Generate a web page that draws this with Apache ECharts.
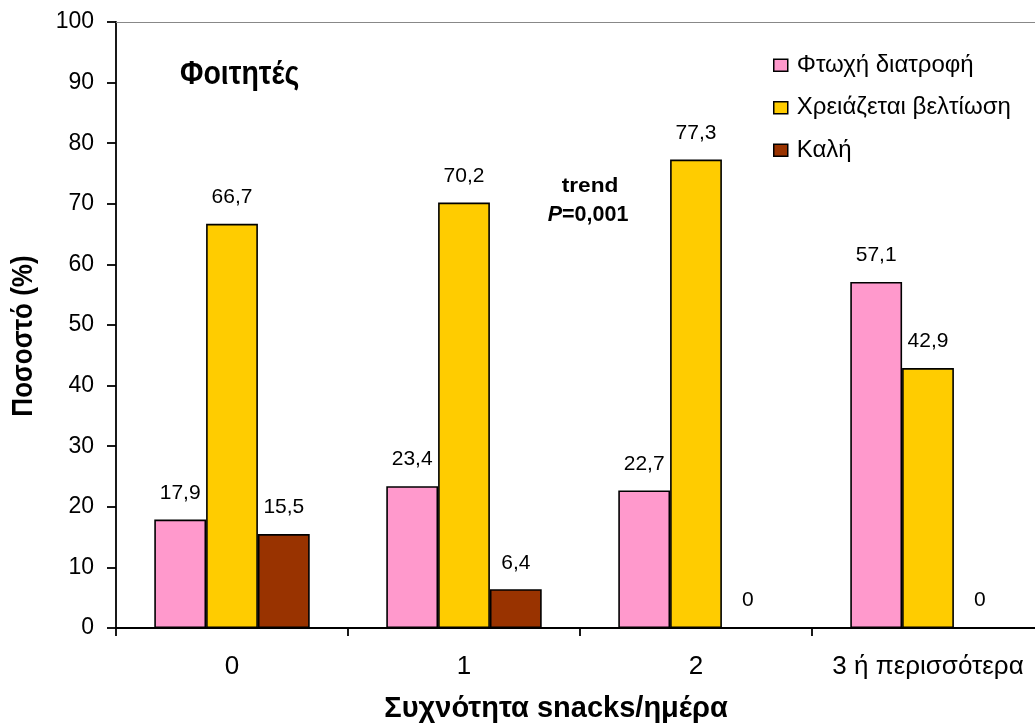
<!DOCTYPE html>
<html>
<head>
<meta charset="utf-8">
<style>
  html, body { margin: 0; padding: 0; background: #fff; overflow: hidden; }
  /* the plot area runs a little past the right edge of the window */
  #chart { width: 1052px; height: 725px; }
</style>
<script src="https://cdn.jsdelivr.net/npm/echarts@6/dist/echarts.min.js"></script>
</head>
<body>
<div id="chart"></div>
<script>
// Snack frequency per day (categories) and diet quality shares (%)
const categories = ['0', '1', '2', '3 ή περισσότερα'];
const seriesNames = ['Φτωχή διατροφή', 'Χρειάζεται βελτίωση', 'Καλή'];
const poorDiet = [17.9, 23.4, 22.7, 57.1];
const needsImprovement = [66.7, 70.2, 77.3, 42.9];
const goodDiet = [15.5, 6.4, 0, 0];
const yTicks = { min: 0, max: 100, interval: 10 };

const colors = ['#FF99CC', '#FFCC00', '#993300'];
const FONT = '"Liberation Sans", Arial, sans-serif';

const chart = echarts.init(document.getElementById('chart'), null, { renderer: 'canvas' });

function barSeries(name, data, color) {
  return {
    name: name,
    type: 'bar',
    data: data,
    barGap: '0%',
    barCategoryGap: '33%',
    itemStyle: { color: color, borderColor: '#000', borderWidth: 1.6 },
    label: {
      show: true,
      position: 'top',
      distance: 16,
      color: '#000',
      fontFamily: FONT,
      fontSize: 21,
      formatter: p => String(p.value).replace('.', ',')
    },
    emphasis: { disabled: true }
  };
}

chart.setOption({
  animation: false,
  backgroundColor: '#fff',
  grid: { left: 116, top: 22, width: 928, bottom: 97 },
  legend: {
    orient: 'vertical',
    left: 768,
    top: 48,
    icon: 'rect',
    itemWidth: 14,
    itemHeight: 12,
    itemGap: 18,
    data: seriesNames,
    itemStyle: { borderColor: '#000', borderWidth: 1.5 },
    textStyle: { fontFamily: FONT, fontSize: 24, color: '#000', lineHeight: 24.5, padding: [0, 0, 0, 4] },
    selectedMode: false
  },
  xAxis: [{
    type: 'category',
    data: categories,
    axisLine: { lineStyle: { color: '#000', width: 1.8 } },
    axisTick: { show: true, interval: 0, length: 8, lineStyle: { color: '#000', width: 1.8 } },
    axisLabel: { interval: 0, hideOverlap: false, color: '#000', fontFamily: FONT, fontSize: 26, margin: 26 }
  }, {
    type: 'category',
    data: categories,
    position: 'top',
    axisLine: { lineStyle: { color: '#888', width: 1 } },
    axisTick: { show: false },
    axisLabel: { show: false }
  }],
  yAxis: {
    type: 'value',
    min: yTicks.min,
    max: yTicks.max,
    interval: yTicks.interval,
    axisLine: { show: true, lineStyle: { color: '#000', width: 1.8 } },
    axisTick: { show: true, length: 9, lineStyle: { color: '#000', width: 1.8 } },
    splitLine: { show: false },
    axisLabel: { color: '#000', fontFamily: FONT, fontSize: 23, margin: 22 }
  },
  series: [
    barSeries(seriesNames[0], poorDiet, colors[0]),
    barSeries(seriesNames[1], needsImprovement, colors[1]),
    barSeries(seriesNames[2], goodDiet, colors[2])
  ],
  graphic: [
    {
      type: 'text', x: 180, y: 75, scaleY: 1.18,
      style: { text: 'Φοιτητές', font: 'bold 28.5px ' + FONT, fill: '#000', align: 'left', verticalAlign: 'middle' }
    },
    {
      type: 'text', x: 556, y: 709,
      style: { text: 'Συχνότητα snacks/ημέρα', font: 'bold 29px ' + FONT, fill: '#000', align: 'center', verticalAlign: 'middle' }
    },
    {
      type: 'text', x: 24, y: 336, rotation: Math.PI / 2, scaleY: 1.1,
      style: { text: 'Ποσοστό (%)', font: 'bold 26px ' + FONT, fill: '#000', align: 'center', verticalAlign: 'middle' }
    },
    {
      type: 'text', x: 590, y: 186, scaleX: 1.08,
      style: { text: 'trend', font: 'bold 21px ' + FONT, fill: '#000', align: 'center', verticalAlign: 'middle' }
    },
    {
      type: 'text', x: 588, y: 215,
      style: {
        text: '{i|P}{b|=0,001}', align: 'center', verticalAlign: 'middle',
        rich: {
          i: { font: 'italic bold 21.5px ' + FONT, fill: '#000' },
          b: { font: 'bold 21.5px ' + FONT, fill: '#000' }
        }
      }
    }
  ]
});
</script>
</body>
</html>
